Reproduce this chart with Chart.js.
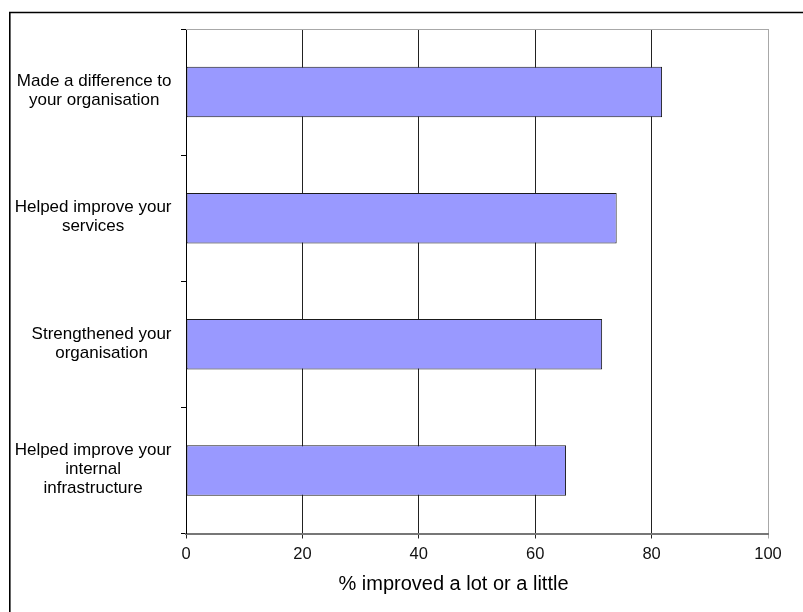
<!DOCTYPE html>
<html>
<head>
<meta charset="utf-8">
<script src="https://cdn.jsdelivr.net/npm/chart.js@4/dist/chart.umd.min.js"></script>
<style>
  html, body { margin: 0; padding: 0; background: #fff; }
  #c { display: block; }
</style>
</head>
<body>
<canvas id="c" width="803" height="612"></canvas>
<script>
const categories = [
  ["Made a difference to", "your organisation"],
  ["Helped improve your", "services"],
  ["Strengthened your", "organisation"],
  ["Helped improve your", "internal", "infrastructure"]
];
const values = [81.8, 74.0, 71.5, 65.3];
const xTickValues = [0, 20, 40, 60, 80, 100];
const xAxisTitle = "% improved a lot or a little";

const FONT = "'Liberation Sans', Arial, sans-serif";

const decor = {
  id: 'decor',
  beforeDraw(chart) {
    const ctx = chart.ctx;
    ctx.save();
    ctx.fillStyle = '#fff';
    ctx.fillRect(0, 0, chart.width, chart.height);
    // outer frame
    ctx.strokeStyle = '#000';
    ctx.lineWidth = 1.6;
    ctx.beginPath();
    ctx.moveTo(9.8, chart.height + 2);
    ctx.lineTo(9.8, 12.5);
    ctx.lineTo(chart.width + 2, 12.5);
    ctx.stroke();
    ctx.restore();
  },
  afterDraw(chart) {
    const ctx = chart.ctx;
    const ca = chart.chartArea;
    const y = chart.scales.y;
    ctx.save();
    // plot area top border (grey)
    ctx.strokeStyle = '#a8a8a8';
    ctx.lineWidth = 1;
    ctx.beginPath();
    ctx.moveTo(ca.left, ca.top + 0.5);
    ctx.lineTo(ca.right, ca.top + 0.5);
    ctx.stroke();
    // category labels: block right-aligned, lines centred in block
    ctx.font = '17px ' + FONT;
    ctx.fillStyle = '#000';
    ctx.textAlign = 'center';
    ctx.textBaseline = 'middle';
    const lh = 19;
    const rightEdge = 171.5;
    categories.forEach((lines, i) => {
      const cy = y.getPixelForValue(i);
      let maxW = 0;
      lines.forEach(l => { maxW = Math.max(maxW, ctx.measureText(l).width); });
      const cx = rightEdge - maxW / 2;
      const startY = cy - (lines.length - 1) * lh / 2 - 1;
      lines.forEach((l, j) => ctx.fillText(l, cx, startY + j * lh));
    });
    // x axis title
    ctx.font = '20px ' + FONT;
    ctx.fillText(xAxisTitle, 453.5, 584);
    ctx.restore();
  }
};

new Chart(document.getElementById('c'), {
  type: 'bar',
  data: {
    labels: categories,
    datasets: [{
      data: values,
      backgroundColor: '#9999ff',
      borderColor: '#1a1a1a',
      borderWidth: 1,
      borderSkipped: false,
      barPercentage: 0.4,
      categoryPercentage: 1.0
    }]
  },
  options: {
    indexAxis: 'y',
    responsive: false,
    animation: false,
    events: [],
    layout: { padding: { top: 29, right: 35, left: 0, bottom: 0 } },
    plugins: { legend: { display: false }, tooltip: { enabled: false }, title: { display: false } },
    scales: {
      x: {
        type: 'linear',
        min: 0,
        max: 100,
        afterFit(s) { s.height = 612 - 533.5; },
        afterBuildTicks(s) { s.ticks = xTickValues.map(v => ({ value: v })); },
        border: { display: true, color: '#777', width: 2 },
        grid: {
          display: true,
          drawOnChartArea: true,
          drawTicks: true,
          tickLength: 5,
          lineWidth: 1,
          color: (c) => (c.tick && c.tick.value === 100) ? '#a8a8a8' : '#222'
        },
        ticks: {
          padding: 6,
          color: '#111',
          font: { family: FONT, size: 16.5 },
          maxRotation: 0
        }
      },
      y: {
        type: 'category',
        afterFit(s) { s.width = 186; },
        border: { display: true, color: '#000', width: 1 },
        grid: {
          display: true,
          offset: true,
          drawOnChartArea: false,
          drawTicks: true,
          tickLength: 5,
          color: '#000'
        },
        ticks: { display: false }
      }
    }
  },
  plugins: [decor]
});
</script>
</body>
</html>
